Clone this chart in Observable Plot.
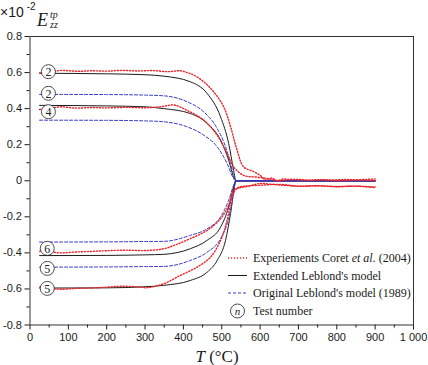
<!DOCTYPE html>
<html><head><meta charset="utf-8">
<script src="https://cdn.jsdelivr.net/npm/d3@7"></script>
<script src="https://cdn.jsdelivr.net/npm/@observablehq/plot@0.6"></script>
<style>body{margin:0;background:#fff}</style>
</head><body><div id="chart"></div>
<script>
// Transformation plasticity strain E_zz^tp (×10^-2) versus temperature T (°C)

// Experiments, Coret et al. (2004)
const exp2T = [25, 40, 60, 80, 100, 130, 160, 200, 240, 280, 320, 360, 392, 410, 427, 453, 479, 505, 523, 540, 557, 584, 600, 614, 630, 645, 660, 680, 700, 730, 760, 790, 820, 850, 880, 900];
const exp2V = [0.598, 0.6, 0.605, 0.612, 0.61, 0.607, 0.61, 0.608, 0.612, 0.609, 0.611, 0.605, 0.61, 0.6, 0.586, 0.549, 0.493, 0.41, 0.30, 0.17, 0.077, 0.05, 0.03, 0.005, 0.015, 0.0, 0.01, 0.005, 0.008, 0.003, 0.006, 0.004, 0.007, 0.005, 0.008, 0.01];
const exp4T = [25, 40, 60, 80, 120, 160, 200, 250, 300, 340, 375, 410, 453, 488, 514, 531, 557, 592, 620, 650, 680, 720, 760, 800, 850, 900];
const exp4V = [0.395, 0.4, 0.405, 0.41, 0.403, 0.406, 0.404, 0.407, 0.405, 0.41, 0.42, 0.39, 0.336, 0.253, 0.151, 0.077, 0.03, 0.02, 0.012, 0.0, 0.008, 0.002, 0.006, 0.0, 0.004, 0.0];
const exp6T = [25, 40, 60, 80, 120, 160, 200, 250, 300, 349, 380, 418, 462, 497, 518, 531, 545, 570, 600, 630, 660, 700, 750, 800, 850, 900];
const exp6V = [-0.39, -0.385, -0.395, -0.4, -0.395, -0.392, -0.388, -0.385, -0.387, -0.377, -0.355, -0.321, -0.275, -0.21, -0.136, -0.053, -0.04, -0.03, -0.015, -0.02, -0.025, -0.03, -0.028, -0.032, -0.03, -0.035];
const exp5T = [25, 40, 60, 80, 120, 160, 200, 240, 280, 306, 349, 392, 436, 471, 497, 514, 527, 540, 560, 600, 650, 700, 750, 800, 850, 900];
const exp5V = [-0.59, -0.585, -0.598, -0.602, -0.597, -0.595, -0.59, -0.585, -0.588, -0.593, -0.571, -0.525, -0.479, -0.423, -0.33, -0.219, -0.09, -0.04, -0.03, -0.025, -0.02, -0.03, -0.028, -0.033, -0.03, -0.038];

// Extended Leblond's model
const ext2T = [25, 200, 300, 349, 418, 462, 497, 518, 531, 537, 900];
const ext2V = [0.596, 0.593, 0.588, 0.58, 0.549, 0.484, 0.354, 0.207, 0.058, 0, 0];
const ext4T = [25, 200, 300, 349, 418, 462, 497, 518, 531, 537, 900];
const ext4V = [0.418, 0.415, 0.41, 0.40, 0.373, 0.318, 0.225, 0.114, 0.02, 0, 0];
const ext6T = [25, 200, 300, 349, 418, 462, 497, 518, 531, 537, 900];
const ext6V = [-0.415, -0.414, -0.411, -0.408, -0.377, -0.33, -0.257, -0.146, -0.034, 0, 0];
const ext5T = [25, 200, 300, 349, 418, 462, 488, 510, 523, 537, 900];
const ext5V = [-0.595, -0.594, -0.588, -0.58, -0.553, -0.507, -0.442, -0.33, -0.182, 0, 0];

// Original Leblond's model (1989)
const org2T = [25, 200, 300, 349, 410, 453, 488, 510, 523, 537, 900];
const org2V = [0.479, 0.478, 0.475, 0.471, 0.438, 0.382, 0.29, 0.188, 0.096, 0, 0];
const org4T = [25, 200, 300, 349, 410, 453, 488, 514, 531, 537, 900];
const org4V = [0.336, 0.335, 0.332, 0.327, 0.299, 0.253, 0.188, 0.096, 0.012, 0, 0];
const org6T = [25, 200, 300, 349, 418, 462, 497, 518, 531, 537, 900];
const org6V = [-0.34, -0.339, -0.337, -0.336, -0.303, -0.266, -0.2, -0.108, -0.025, 0, 0];
const org5T = [25, 200, 300, 349, 418, 462, 497, 518, 531, 537, 900];
const org5V = [-0.479, -0.478, -0.476, -0.475, -0.442, -0.396, -0.321, -0.21, -0.071, 0, 0];

// Test-number tags near the start of each curve
const tagT = [48, 48, 48, 45, 45, 45];
const tagV = [0.605, 0.485, 0.383, -0.375, -0.486, -0.597];
const tagN = ["2", "2", "4", "6", "5", "5"];

// Axis ticks
const xTicks = [0, 100, 200, 300, 400, 500, 600, 700, 800, 900, 1000];
const xMinor = [50, 150, 250, 350, 450, 550, 650, 750, 850, 950];
const yTicks = [-0.8, -0.6, -0.4, -0.2, 0, 0.2, 0.4, 0.6, 0.8];
const yMinor = [-0.7, -0.5, -0.3, -0.1, 0.1, 0.3, 0.5, 0.7];

const legendLabels = ["Experiements Coret ", "Extended Leblond's model", "Original Leblond's model (1989)", "Test number"];

const W = 428, H = 365;
const serif = "'Liberation Serif','Times New Roman',serif";
const sans = "'Liberation Sans',Arial,sans-serif";
const RED = "#e8262c", BLUE = "#3535cc", BLACK = "#1c1c1c";
const EXP_DASH = "1.2,1.8";
const M = {top: 36, right: 15, bottom: 40.5, left: 29.5};

function rowsOf(kind, list) {
  return list.flatMap(([T, V], id) => T.map((t, j) => ({kind, id: kind + id, T: t, v: V[j]})));
}
const expRows = rowsOf("exp", [[exp2T, exp2V], [exp4T, exp4V], [exp6T, exp6V], [exp5T, exp5V]]);
const extRows = rowsOf("ext", [[ext2T, ext2V], [ext4T, ext4V], [ext6T, ext6V], [ext5T, ext5V]]);
const orgRows = rowsOf("org", [[org2T, org2V], [org4T, org4V], [org6T, org6V], [org5T, org5V]]);
const tags = tagT.map((t, i) => ({T: t, v: tagV[i], n: tagN[i]}));

const fmtY = d => d === 0 ? "0" : d.toFixed(1);
const fmtX = d => d === 1000 ? "1 000" : String(d);

const plot = Plot.plot({
  width: W, height: H,
  marginTop: M.top, marginRight: M.right, marginBottom: M.bottom, marginLeft: M.left,
  style: {fontFamily: sans, fontSize: "11px", color: "#1a1a1a", background: "white"},
  x: {domain: [0, 1000]},
  y: {domain: [-0.8, 0.8]},
  marks: [
    Plot.axisX(xTicks, {tickSize: 5, tickPadding: 3, tickFormat: fmtX, label: null}),
    Plot.axisX(xMinor, {tickSize: 3, tickFormat: () => "", label: null}),
    Plot.axisY(yTicks, {tickSize: 5, tickPadding: 3, tickFormat: fmtY, label: null}),
    Plot.axisY(yMinor, {tickSize: 3, tickFormat: () => "", label: null}),
    Plot.line(extRows, {x: "T", y: "v", z: "id", stroke: BLACK, strokeWidth: 1, curve: "monotone-x"}),
    Plot.line(orgRows, {x: "T", y: "v", z: "id", stroke: BLUE, strokeWidth: 1, strokeDasharray: "3,2", curve: "monotone-x"}),
    Plot.line(expRows, {x: "T", y: "v", z: "id", stroke: RED, strokeWidth: 1.4, strokeDasharray: EXP_DASH, curve: "catmull-rom"}),
    Plot.dot(tags, {x: "T", y: "v", r: 7, fill: "white", stroke: "#222", strokeWidth: 0.8}),
    Plot.text(tags, {x: "T", y: "v", text: "n", fontFamily: serif, fontSize: 12, fill: "#222", dy: 0.5}),
    Plot.frame({stroke: "#333", strokeWidth: 1})
  ]
});
document.getElementById("chart").appendChild(plot);

const svg = d3.select(plot);
// Scale factor of the y axis
const t1 = svg.append("text").attr("text-anchor", "start").attr("x", 0).attr("y", 17).attr("font-family", sans).attr("font-size", 14).attr("fill", "#1a1a1a");
t1.append("tspan").text("×10");
t1.append("tspan").attr("dx", 3).attr("dy", -7).attr("font-size", 10).text("-2");

// Y axis title: E_zz^tp
const ey = svg.append("text").attr("text-anchor", "start").attr("x", 37).attr("y", 26).attr("font-family", serif).attr("font-style", "italic").attr("font-size", 18).attr("fill", "#1a1a1a");
ey.append("tspan").text("E");
ey.append("tspan").attr("x", 50).attr("y", 18).attr("font-size", 10).text("tp");
ey.append("tspan").attr("x", 50).attr("y", 28).attr("font-size", 10).text("zz");

// X axis title: T (°C)
const tx = svg.append("text").attr("x", 217).attr("y", 362).attr("text-anchor", "middle").attr("font-family", serif).attr("font-size", 17).attr("fill", "#1a1a1a");
tx.append("tspan").attr("font-style", "italic").text("T");
tx.append("tspan").text(" (°C)");

// Legend
const lg = svg.append("g").attr("font-family", serif).attr("font-size", 12).attr("fill", "#1a1a1a").attr("text-anchor", "start");
const lx0 = 228, lx1 = 247, tx0 = 253;
const rowsY = [258, 275.5, 293, 311];
const styles = [
  {stroke: RED, w: 1.4, dash: EXP_DASH},
  {stroke: BLACK, w: 1, dash: null},
  {stroke: BLUE, w: 1, dash: "3,2"}
];
styles.forEach((s, i) => {
  lg.append("line").attr("x1", lx0).attr("x2", lx1).attr("y1", rowsY[i]).attr("y2", rowsY[i])
    .attr("stroke", s.stroke).attr("stroke-width", s.w).attr("stroke-dasharray", s.dash);
});
const l0 = lg.append("text").attr("x", tx0).attr("y", rowsY[0]).attr("dy", "0.35em");
l0.append("tspan").text(legendLabels[0]);
l0.append("tspan").attr("font-style", "italic").text("et al.");
l0.append("tspan").text(" (2004)");
lg.append("text").attr("x", tx0).attr("y", rowsY[1]).attr("dy", "0.35em").text(legendLabels[1]);
lg.append("text").attr("x", tx0).attr("y", rowsY[2]).attr("dy", "0.35em").text(legendLabels[2]);
lg.append("circle").attr("cx", (lx0 + lx1) / 2).attr("cy", rowsY[3]).attr("r", 7).attr("fill", "white").attr("stroke", "#222").attr("stroke-width", 0.8);
lg.append("text").attr("x", (lx0 + lx1) / 2).attr("y", rowsY[3]).attr("dy", "0.35em").attr("text-anchor", "middle").attr("font-style", "italic").attr("font-size", 11).text("n");
lg.append("text").attr("x", tx0).attr("y", rowsY[3]).attr("dy", "0.35em").text(legendLabels[3]);
</script></body></html>
